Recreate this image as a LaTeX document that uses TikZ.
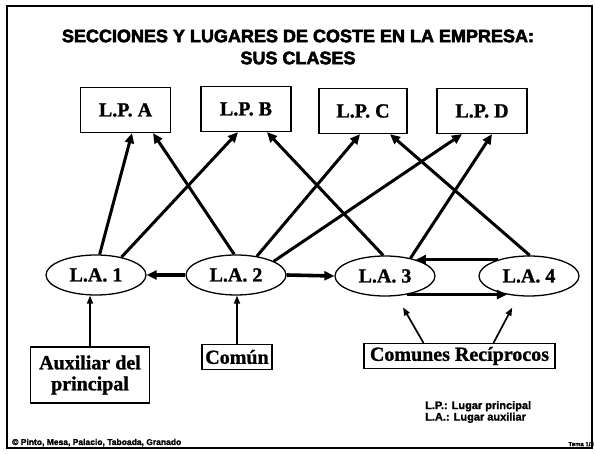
\documentclass[tikz,border=0pt]{standalone}
\usepackage{fontspec}
\setmainfont{Liberation Serif}[BoldFeatures={FakeBold=1.2}]
\newfontfamily\heavysans{Liberation Sans Bold}[FakeBold=3]
\newfontfamily\boldsans{Liberation Sans Bold}[FakeBold=1.5]
\usetikzlibrary{shapes.geometric,arrows.meta}
\begin{document}
\begin{tikzpicture}[x=1pt,y=-1pt,
 lbl/.style={font=\fontsize{20}{21}\selectfont\bfseries, inner sep=0pt, align=center},
 lpbox/.style={lbl, draw, line width=1.3pt, minimum width=90pt, minimum height=45pt},
 laell/.style={lbl, ellipse, draw, line width=1.3pt, minimum width=100pt, minimum height=40pt},
 srcbox/.style={lbl, draw, line width=1.1pt},
 arr/.style={-{Triangle[length=10pt,width=9pt]}, line width=3pt},
 harr/.style={-{Triangle[length=10pt,width=9pt]}, line width=3.6pt},
 thinarr/.style={-{Triangle[length=8pt,width=6pt]}, line width=1.7pt},
 sanslbl/.style={inner sep=0pt, align=left}
]
\useasboundingbox (0,0) rectangle (595,454);
\draw[line width=1.8pt] (7,6) rectangle (592,448);

\node[sanslbl, align=center, font=\heavysans\fontsize{18}{22}\selectfont] (title) at (298,47)
  {SECCIONES Y LUGARES DE COSTE EN LA EMPRESA:\\SUS CLASES};

\node[lpbox] (lpa) at (125.5,110) {L.P. A};
\node[lpbox] (lpb) at (246,109) {L.P. B};
\node[lpbox, minimum width=88pt] (lpc) at (363,111) {L.P. C};
\node[lpbox] (lpd) at (482,111) {L.P. D};

\node[laell] (la1) at (96,275) {L.A. 1};
\node[laell] (la2) at (236,275) {L.A. 2};
\node[laell] (la3) at (385,276) {L.A. 3};
\node[laell] (la4) at (529,276) {L.A. 4};

\node[srcbox, minimum width=119pt, minimum height=56pt] (aux) at (90,375) {Auxiliar del\\principal};
\node[srcbox, minimum width=70pt, minimum height=25pt] (comun) at (237,357) {Común};
\node[srcbox, minimum width=191pt, minimum height=25pt] (cr) at (459.5,356) {Comunes Recíprocos};

\draw[arr] (la1.80) -- ([xshift=6.5pt]lpa.south);
\draw[arr] (la1.35) -- ([xshift=-8pt]lpb.south);
\draw[arr] (la2.95) -- ([xshift=27.5pt]lpa.south);
\draw[arr] (la2.42) -- ([xshift=-3pt]lpc.south);
\draw[arr] (la2.20) -- ([xshift=-20pt]lpd.south);
\draw[arr] (la3.95) -- ([xshift=21pt]lpb.south);
\draw[arr] (la3.35) -- ([xshift=10pt]lpd.south);
\draw[arr] (la4.88) -- ([xshift=27pt]lpc.south);

\draw[harr] (la2.west) -- (la1.east);
\draw[harr] (la2.east) -- (la3.west);
\draw[harr] (la4.152) -- (la3.28);
\draw[harr] (la3.-40) -- (la4.220);

\draw[thinarr] (aux.north) -- (aux.north |- la1.south);
\draw[thinarr] (comun.north) -- (comun.north |- la2.south);
\draw[thinarr, shorten >=13pt] ([xshift=-36pt]cr.north) -- (la3);
\draw[thinarr, shorten >=13pt] ([xshift=34pt]cr.north) -- (la4);

\node[sanslbl, anchor=west, font=\boldsans\fontsize{11}{11.5}\selectfont] (legend) at (425,412)
  {L.P.: Lugar principal\\L.A.: Lugar auxiliar};

\node[sanslbl, anchor=south west, font=\boldsans\fontsize{8.5}{9}\selectfont] (foot) at (12,446.5)
  {© Pinto, Mesa, Palacio, Taboada, Granado};
\node[sanslbl, anchor=south east, font=\boldsans\fontsize{6}{7}\selectfont] (tema) at (594,446.5)
  {Tema 1/3};
\end{tikzpicture}
\end{document}
